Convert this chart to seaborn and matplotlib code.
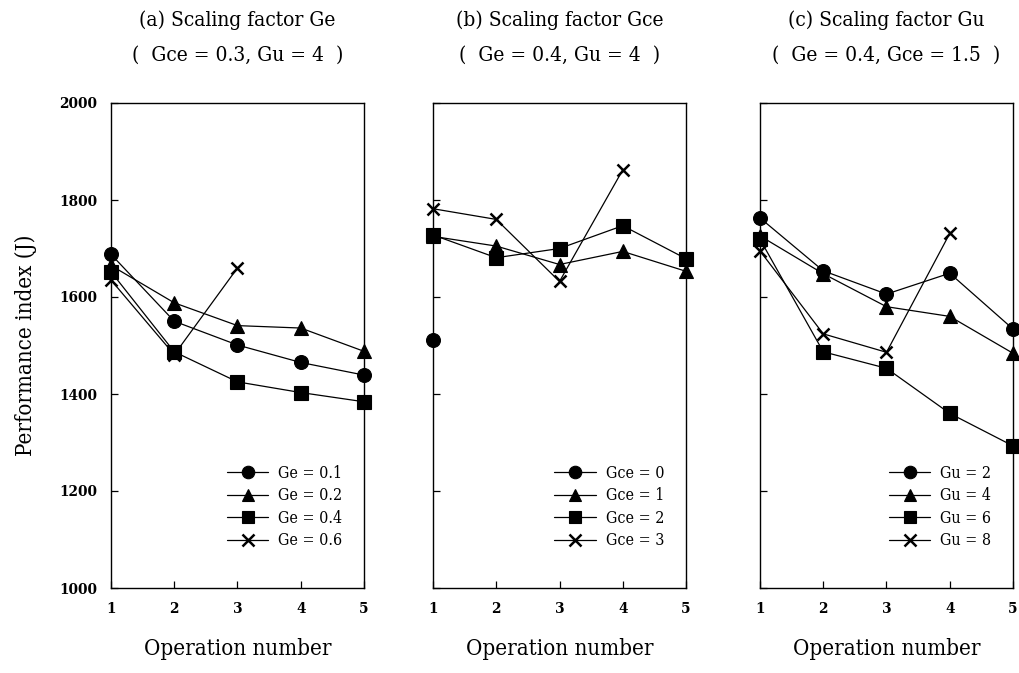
import matplotlib
matplotlib.use("Agg")
import matplotlib.pyplot as plt
from matplotlib import font_manager as fm
import pandas as pd
import seaborn as sns

# ---------------- data ----------------
ops = [1, 2, 3, 4, 5]

# (a) Scaling factor Ge
ge_labels = ["Ge = 0.1", "Ge = 0.2", "Ge = 0.4", "Ge = 0.6"]
ge_01 = [1688, 1550, 1501, 1465, 1439]
ge_02 = [1665, 1588, 1541, 1536, 1488]
ge_04 = [1652, 1487, 1425, 1403, 1384]
ge_06 = [1635, 1481, 1660]

# (b) Scaling factor Gce
gce_labels = ["Gce = 0", "Gce = 1", "Gce = 2", "Gce = 3"]
gce_0 = [1512]
gce_1 = [1725, 1705, 1667, 1694, 1653]
gce_2 = [1728, 1681, 1700, 1747, 1679]
gce_3 = [1782, 1760, 1632, 1862]

# (c) Scaling factor Gu
gu_labels = ["Gu = 2", "Gu = 4", "Gu = 6", "Gu = 8"]
gu_2 = [1763, 1654, 1606, 1649, 1534]
gu_4 = [1726, 1648, 1580, 1560, 1484]
gu_6 = [1719, 1487, 1453, 1360, 1293]
gu_8 = [1695, 1524, 1486, 1731]

title_top = ["(a) Scaling factor Ge", "(b) Scaling factor Gce",
             "(c) Scaling factor Gu"]
title_sub = ["(  Gce = 0.3, Gu = 4  )", "(  Ge = 0.4, Gu = 4  )",
             "(  Ge = 0.4, Gce = 1.5  )"]
yticks = [1000, 1200, 1400, 1600, 1800, 2000]
ylabel = "Performance index (J)"
xlabel = "Operation number"

# ---------------- style ----------------
sns.set_theme(style="ticks")
fonts = fm.fontManager.ttflist
stretch = "normal"
if any(f.name == "DejaVu Serif" and f.stretch == "condensed" for f in fonts):
    family = ["DejaVu Serif"]
    stretch = "condensed"
elif any(f.name == "Liberation Sans Narrow" for f in fonts):
    family = ["Liberation Sans Narrow"]
else:
    family = ["Liberation Serif"]
plt.rcParams["font.family"] = family
plt.rcParams["font.stretch"] = stretch
plt.rcParams["text.color"] = "black"
plt.rcParams["axes.labelcolor"] = "black"

panels = [
    (ge_labels, [ge_01, ge_02, ge_04, ge_06]),
    (gce_labels, [gce_0, gce_1, gce_2, gce_3]),
    (gu_labels, [gu_2, gu_4, gu_6, gu_8]),
]
markers = ["o", "^", "s", "x"]

fig = plt.figure(figsize=(10.2, 6.73), dpi=100)
lefts = [111 / 1020, 433 / 1020, 760 / 1020]
width = 253 / 1020
bottom = 1 - 588 / 673
height = (588 - 103) / 673

for i, (labels, series) in enumerate(panels):
    ax = fig.add_axes([lefts[i], bottom, width, height])
    for lab, vals, m in zip(labels, series, markers):
        df = pd.DataFrame({"op": ops[:len(vals)], "val": vals})
        sns.lineplot(data=df, x="op", y="val", marker=m, color="black",
                     linewidth=0.9, markersize=10 if m != "x" else 9,
                     markeredgecolor="black",
                     markeredgewidth=1.8 if m == "x" else 0.8,
                     label=lab, ax=ax, clip_on=False, zorder=3)
    ax.set_xlim(1, 5)
    ax.set_ylim(1000, 2000)
    ax.set_xticks(ops)
    ax.set_yticks(yticks)
    ax.tick_params(direction="in", length=5, width=0.9, labelsize=11,
                   colors="black")
    ax.tick_params(axis="x", pad=10)
    ax.tick_params(axis="y", pad=10)
    for s in ax.spines.values():
        s.set_visible(True)
        s.set_color("black")
        s.set_linewidth(1.0)
    if i == 0:
        ax.set_ylabel(ylabel, fontsize=16, labelpad=16)
        for t in ax.get_yticklabels():
            t.set_fontweight("bold")
    else:
        ax.set_ylabel("")
        ax.tick_params(axis="y", labelleft=False)
    for t in ax.get_xticklabels():
        t.set_fontweight("bold")
    ax.set_xlabel(xlabel, fontsize=16, labelpad=16)
    ax.text(0.5, (588 - 20) / 485, title_top[i], transform=ax.transAxes,
            ha="center", va="center", fontsize=15)
    ax.text(0.5, (588 - 55) / 485, title_sub[i], transform=ax.transAxes,
            ha="center", va="center", fontsize=15)
    leg = ax.legend(loc="lower right", bbox_to_anchor=(0.97, 0.05),
                    frameon=False, fontsize=11.5, handlelength=2.6,
                    handletextpad=0.6, labelspacing=0.35)
    for h in leg.legend_handles:
        h.set_markersize(9)

fig.savefig("out.png", dpi=100)
